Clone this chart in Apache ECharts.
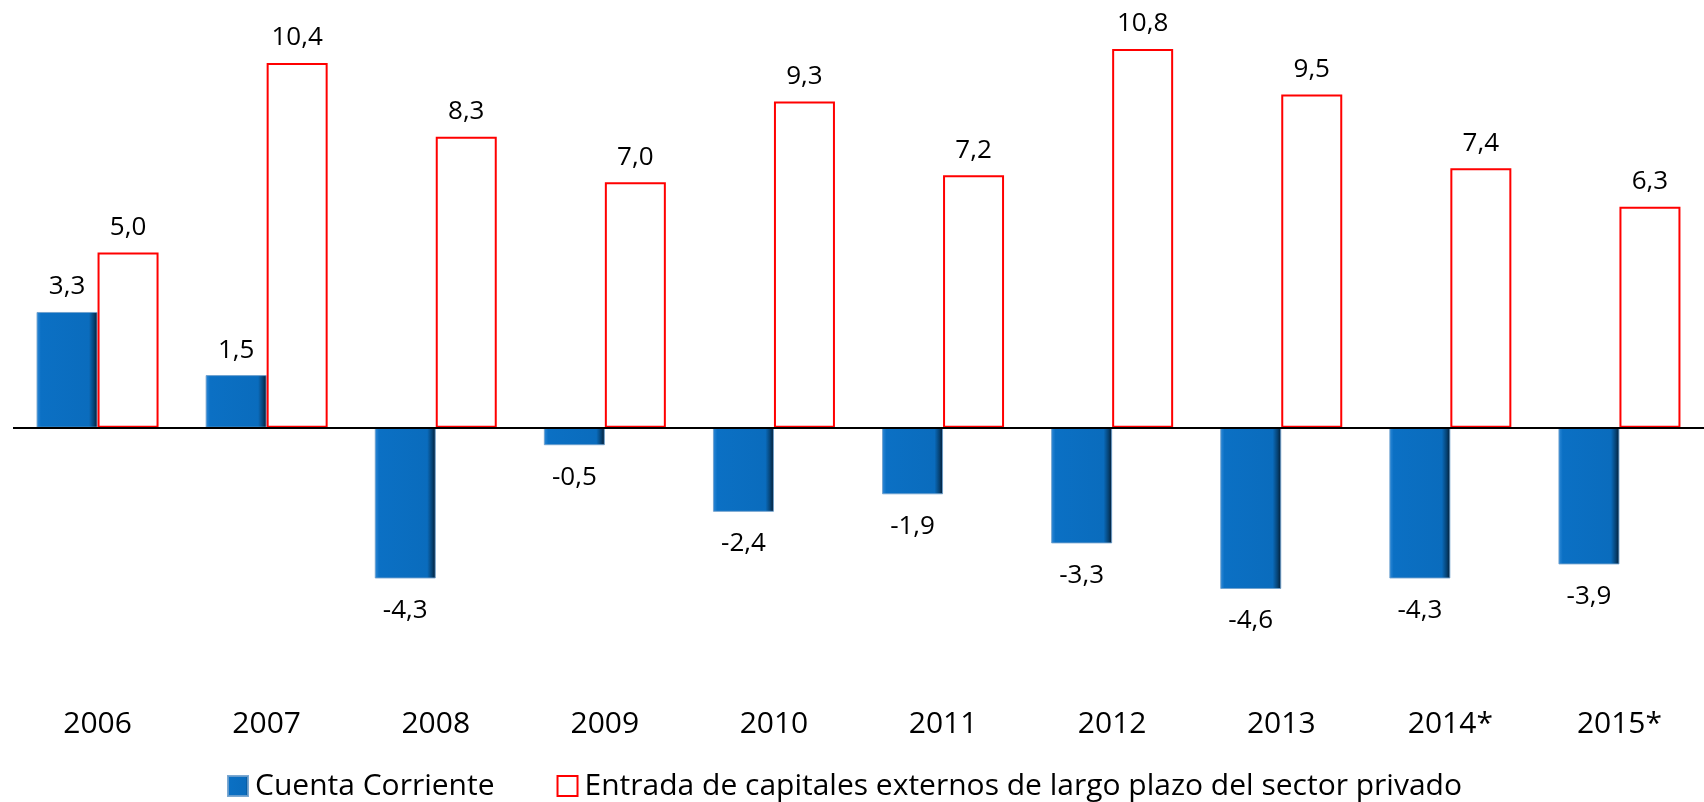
<!DOCTYPE html>
<html lang="es">
<head>
    <meta charset="UTF-8">
    <title>Cuenta Corriente y Entrada de capitales</title>
    <script src="https://cdn.jsdelivr.net/npm/echarts@6/dist/echarts.min.js"></script>
</head>
<body style="margin: 0; background: #fff">
<div id="main" style="width: 1704px; height: 802px"></div>

<script>
    // datos
    const years = ['2006', '2007', '2008', '2009', '2010', '2011', '2012', '2013', '2014*', '2015*'];
    const cuentaCorriente = [3.3, 1.5, -4.3, -0.5, -2.4, -1.9, -3.3, -4.6, -4.3, -3.9];
    const entradaCapitales = [5.0, 10.4, 8.3, 7.0, 9.3, 7.2, 10.8, 9.5, 7.4, 6.3];

    const font = 'Open Sans';
    const fmt = p => p.value.toFixed(1).replace('.', ',');

    const blueFill = new echarts.graphic.LinearGradient(0, 0, 1, 0, [
        {offset: 0, color: '#2f8ad8'},
        {offset: 0.07, color: '#0b70c4'},
        {offset: 0.86, color: '#0a6cbd'},
        {offset: 0.94, color: '#064273'},
        {offset: 1, color: '#021a30'}
    ]);

    const chart = echarts.init(document.getElementById('main'));

    const option = {
        backgroundColor: '#fff',
        animation: false,
        textStyle: {fontFamily: font},
        grid: {left: 13, top: 42, width: 1704, height: 561},
        legend: {
            left: 222,
            top: 766,
            itemWidth: 20,
            itemHeight: 20,
            itemGap: 62,
            textStyle: {fontSize: 30, color: '#000', fontFamily: font, padding: [0, 0, 0, 2]},
            data: [
                {name: 'Cuenta Corriente', icon: 'rect'},
                {name: 'Entrada de capitales externos de largo plazo del sector privado', icon: 'rect'}
            ]
        },
        xAxis: {
            type: 'category',
            data: years,
            axisLine: {show: false, onZero: false},
            axisTick: {show: false},
            axisLabel: {fontSize: 30, color: '#000', margin: 106, fontFamily: font}
        },
        yAxis: {
            type: 'value',
            min: -5,
            max: 11,
            show: false,
            splitLine: {show: false}
        },
        series: [
            {
                name: 'Cuenta Corriente',
                type: 'bar',
                barWidth: 61,
                barGap: '0%',
                itemStyle: {color: blueFill, borderColor: 'rgba(110,160,205,0.9)', borderWidth: 1},
                label: {show: true, fontSize: 26, color: '#000', distance: 12, formatter: fmt},
                data: cuentaCorriente.map(v => ({
                    value: v,
                    label: v < 0 ? {position: 'bottom', distance: 19} : {position: 'top', distance: 12}
                })),
                markLine: {
                    silent: true,
                    symbol: 'none',
                    label: {show: false},
                    lineStyle: {color: '#000', width: 2, type: 'solid'},
                    data: [{yAxis: 0}]
                }
            },
            {
                name: 'Entrada de capitales externos de largo plazo del sector privado',
                type: 'bar',
                barWidth: 61,
                itemStyle: {color: '#fff', borderColor: '#ff0000', borderWidth: 2},
                label: {show: true, position: 'top', fontSize: 26, color: '#000', distance: 12, formatter: fmt},
                data: entradaCapitales
            }
        ]
    };
    chart.setOption(option);
</script>
</body>
</html>
